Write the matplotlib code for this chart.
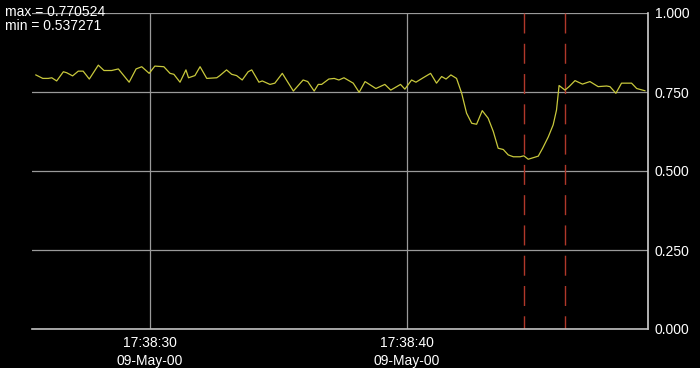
import matplotlib
matplotlib.use("Agg")
import matplotlib.pyplot as plt
import matplotlib.dates as mdates
import numpy as np
import datetime as dt

# seconds after 17:38:00 on 09-May-2000
t_sec = [25.56, 25.83, 26.04, 26.18, 26.37, 26.63, 26.76, 26.99, 27.21, 27.40,
         27.64, 27.99, 28.21, 28.51, 28.77, 29.19, 29.46, 29.68, 29.97, 30.19,
         30.54, 30.78, 30.93, 31.17, 31.40, 31.50, 31.75, 31.95, 32.21, 32.60,
         32.72, 32.98, 33.18, 33.37, 33.59, 33.82, 33.96, 34.24, 34.37, 34.67,
         34.86, 35.15, 35.58, 35.96, 36.14, 36.39, 36.55, 36.68, 36.96, 37.17,
         37.35, 37.55, 37.91, 38.14, 38.37, 38.79, 39.14, 39.37, 39.75, 39.92,
         40.18, 40.35, 40.63, 40.92, 41.15, 41.35, 41.52, 41.71, 41.93, 42.13,
         42.32, 42.52, 42.71, 42.93, 43.16, 43.36, 43.55, 43.75, 43.94, 44.14,
         44.40, 44.55, 44.72, 45.11, 45.28, 45.50, 45.69, 45.82, 45.92, 46.15,
         46.31, 46.54, 46.83, 47.12, 47.44, 47.77, 47.90, 48.13, 48.35, 48.74,
         48.94, 49.26]
values = [0.804, 0.793, 0.793, 0.795, 0.785, 0.814, 0.811, 0.801, 0.816, 0.816,
          0.791, 0.835, 0.818, 0.818, 0.823, 0.781, 0.823, 0.830, 0.809, 0.832,
          0.830, 0.809, 0.806, 0.781, 0.820, 0.795, 0.802, 0.830, 0.793, 0.795,
          0.802, 0.820, 0.806, 0.802, 0.788, 0.814, 0.820, 0.781, 0.785, 0.774,
          0.778, 0.809, 0.753, 0.788, 0.783, 0.753, 0.774, 0.774, 0.791, 0.793,
          0.788, 0.795, 0.778, 0.749, 0.783, 0.761, 0.774, 0.756, 0.774, 0.759,
          0.788, 0.781, 0.795, 0.809, 0.778, 0.799, 0.791, 0.804, 0.793, 0.746,
          0.683, 0.651, 0.648, 0.691, 0.667, 0.625, 0.572, 0.568, 0.551, 0.545,
          0.545, 0.548, 0.537271, 0.547, 0.572, 0.608, 0.646, 0.693, 0.770524, 0.756,
          0.767, 0.786, 0.775, 0.783, 0.767, 0.769, 0.767, 0.746, 0.778, 0.778,
          0.761, 0.754]
cursor_sec = [44.55, 46.15]
y_ticks = [0.0, 0.25, 0.5, 0.75, 1.0]
x_tick_sec = [30, 40]
stat_labels = ["max = 0.770524", "min = 0.537271"]

base = dt.datetime(2000, 5, 9, 17, 38, 0)
times = [base + dt.timedelta(seconds=s) for s in t_sec]
cursors = [base + dt.timedelta(seconds=s) for s in cursor_sec]
xticks = [base + dt.timedelta(seconds=s) for s in x_tick_sec]
xmin = base + dt.timedelta(seconds=25.41)
xmax = base + dt.timedelta(seconds=49.38)

fig = plt.figure(figsize=(7.0, 3.68), dpi=100, facecolor="black")
ax = fig.add_axes([32/700, 39/368, 616/700, 316/368], facecolor="black")

grid_c = "#9a9a9a"
for yv in y_ticks:
    ax.axhline(yv, color=grid_c, lw=0.9, zorder=1)
for xv in xticks:
    ax.axvline(xv, color=grid_c, lw=0.9, zorder=1)

ax.plot(times, values, color="#c8c83c", lw=0.9, zorder=3)
for c in cursors:
    ax.plot([c, c], [1.0, 0.0], color="#b0382a", lw=1.0,
            linestyle=(0, (14.4, 7.4)), zorder=2)

ax.set_xlim(xmin, xmax)
ax.set_ylim(0, 1.0)

for s in ["top", "left"]:
    ax.spines[s].set_visible(False)
ax.spines["right"].set_color("#d0d0d0")
ax.spines["bottom"].set_color("#c0c0c0")
ax.spines["right"].set_linewidth(1.2)
ax.spines["bottom"].set_linewidth(1.2)

ax.yaxis.tick_right()
ax.set_yticks(y_ticks)
ax.set_yticklabels(["%.3f" % v for v in y_ticks])
ax.set_xticks(xticks)
ax.xaxis.set_major_formatter(mdates.DateFormatter("%H:%M:%S\n%d-%b-%y"))
ax.tick_params(axis="both", length=0, colors="white", labelsize=10)
ax.tick_params(axis="y", pad=5)
ax.tick_params(axis="x", pad=5)
for lab in ax.get_xticklabels() + ax.get_yticklabels():
    lab.set_family(["Liberation Sans", "DejaVu Sans"])
    lab.set_color("white")
for lab in ax.get_xticklabels():
    lab.set_linespacing(1.4)

fig.text(5/700, 1 - 12/368, stat_labels[0], color="white", fontsize=10,
         family=["Liberation Sans", "DejaVu Sans"], va="center", ha="left")
fig.text(5/700, 1 - 26/368, stat_labels[1], color="white", fontsize=10,
         family=["Liberation Sans", "DejaVu Sans"], va="center", ha="left")

fig.savefig("out.png", dpi=100, facecolor="black")
